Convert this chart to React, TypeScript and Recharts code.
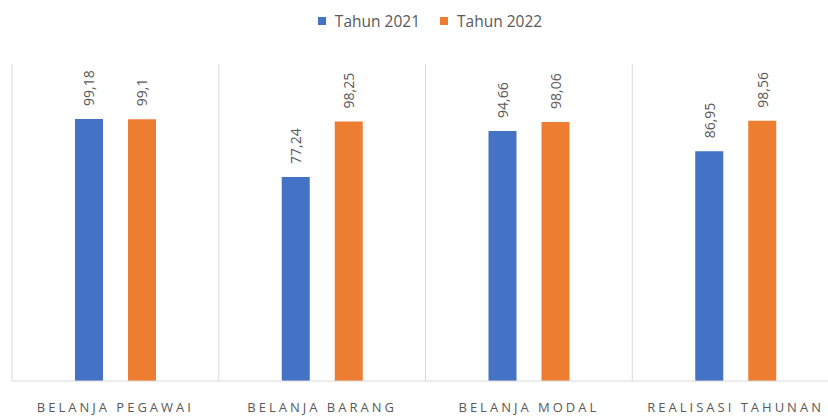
import React from "react";
import { BarChart, Bar, XAxis, YAxis, LabelList, ReferenceLine } from "recharts";

const categories = ["BELANJA PEGAWAI", "BELANJA BARANG", "BELANJA MODAL", "REALISASI TAHUNAN"];
const tahun2021 = [99.18, 77.24, 94.66, 86.95];
const tahun2022 = [99.1, 98.25, 98.06, 98.56];
const seriesNames = ["Tahun 2021", "Tahun 2022"];
const seriesColors = ["#4472C4", "#ED7D31"];
const gridBoundaries = [0, 1, 2, 3, 4];

const data = categories.map((c, i) => ({ name: c, y2021: tahun2021[i], y2022: tahun2022[i], idx: i + 0.5 }));

const FONT = "'Open Sans', 'Liberation Sans', sans-serif";
const TEXT = "#595959";

const fmt = (v: number) => String(v).replace(".", ",");

const ValueLabel = (props: any) => {
  const { x, y, width, value } = props;
  const cx = x + width / 2;
  const ty = y - 13;
  return (
    <text
      x={cx}
      y={ty}
      transform={`rotate(-90, ${cx}, ${ty})`}
      textAnchor="start"
      dominantBaseline="central"
      fill={TEXT}
      fontSize={14}
      fontFamily={FONT}
    >
      {fmt(value)}
    </text>
  );
};

const CatTick = (props: any) => {
  const { x, y, payload } = props;
  return (
    <text
      x={x}
      y={y + 23}
      textAnchor="middle"
      fill={TEXT}
      fontSize={13}
      fontFamily={FONT}
      letterSpacing={3}
    >
      {payload.value}
    </text>
  );
};

export default function App() {
  return (
    <div style={{ position: "absolute", left: 0, top: 0, width: 828, height: 419, overflow: "hidden", background: "#fff" }}>
      <div
        style={{
          position: "absolute",
          top: 10,
          left: 16,
          width: 828,
          display: "flex",
          justifyContent: "center",
          gap: 20,
          fontFamily: FONT,
          fontSize: 15.5,
          color: TEXT,
        }}
      >
        {seriesNames.map((n, i) => (
          <div key={n} style={{ display: "flex", alignItems: "center" }}>
            <span style={{ display: "inline-block", width: 8, height: 8, background: seriesColors[i], marginRight: 9 }} />
            <span>{n}</span>
          </div>
        ))}
      </div>
      <BarChart
        width={845}
        height={419}
        data={data}
        margin={{ top: 64, right: 6, left: 12, bottom: 0 }}
        barSize={28}
        barGap={25}
      >
        <XAxis
          dataKey="name"
          height={38}
          axisLine={{ stroke: "#d9d9d9" }}
          tickLine={false}
          tick={<CatTick />}
          interval={0}
        />
        <XAxis xAxisId="grid" dataKey="idx" type="number" domain={[0, 4]} allowDataOverflow hide />
        <YAxis hide domain={[0, 120]} />
        {gridBoundaries.map((b) => (
          <ReferenceLine key={b} xAxisId="grid" x={b} stroke="#d9d9d9" strokeWidth={1} />
        ))}
        <Bar dataKey="y2021" name={seriesNames[0]} fill={seriesColors[0]} isAnimationActive={false}>
          <LabelList dataKey="y2021" content={<ValueLabel />} />
        </Bar>
        <Bar dataKey="y2022" name={seriesNames[1]} fill={seriesColors[1]} isAnimationActive={false}>
          <LabelList dataKey="y2022" content={<ValueLabel />} />
        </Bar>
      </BarChart>
    </div>
  );
}
